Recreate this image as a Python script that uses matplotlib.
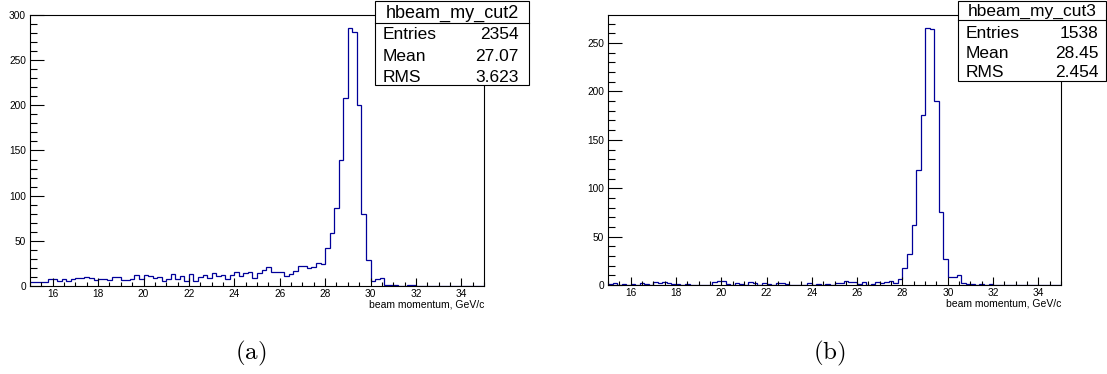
import numpy as np
import matplotlib
matplotlib.use("Agg")
import matplotlib.pyplot as plt
from matplotlib.patches import Rectangle
from matplotlib.lines import Line2D
from matplotlib.ticker import MultipleLocator

plt.rcParams['font.family'] = ['Liberation Sans', 'DejaVu Sans']
plt.rcParams['mathtext.fontset'] = 'cm'

# 100 bins of 0.2 GeV/c between 15 and 35
edges = np.linspace(15, 35, 101)

counts_cut2 = [4, 4, 4, 4, 8, 8, 6, 8, 5, 8,
               9, 9, 10, 9, 7, 8, 8, 7, 10, 10,
               7, 7, 8, 12, 8, 12, 11, 9, 10, 5,
               8, 13, 8, 11, 5, 13, 6, 10, 12, 9,
               14, 11, 12, 8, 12, 15, 11, 14, 15, 9,
               14, 18, 21, 15, 15, 15, 11, 13, 17, 22,
               22, 20, 21, 25, 24, 42, 59, 86, 140, 208,
               286, 281, 200, 80, 29, 6, 8, 9, 1, 1,
               1, 0, 0, 1, 1, 0, 0, 0, 0, 0,
               0, 0, 0, 0, 0, 0, 0, 0, 0, 0]

counts_cut3 = [1, 2, 0, 1, 0, 1, 0, 2, 1, 0,
               3, 2, 3, 2, 1, 1, 0, 1, 0, 0,
               0, 0, 0, 3, 4, 4, 1, 0, 2, 1,
               0, 3, 2, 0, 2, 1, 0, 2, 2, 1,
               0, 0, 0, 0, 2, 0, 1, 0, 1, 0,
               2, 2, 4, 3, 3, 1, 3, 0, 1, 3,
               2, 3, 4, 2, 6, 18, 32, 62, 119, 176,
               266, 265, 190, 75, 27, 8, 8, 10, 2, 1,
               1, 0, 1, 0, 1, 0, 0, 0, 0, 0,
               0, 0, 0, 0, 0, 0, 0, 0, 0, 0]

names = ['hbeam_my_cut2', 'hbeam_my_cut3']
stats = [[('Entries', '2354'), ('Mean', '27.07'), ('RMS', '3.623')],
         [('Entries', '1538'), ('Mean', '28.45'), ('RMS', '2.454')]]
captions = ['(a)', '(b)']
xlabel = 'beam momentum, GeV/c'

W, H = 1107, 374
fig = plt.figure(figsize=(W / 100, H / 100), dpi=100)


def fx(x):
    return x / W


def fy(y):
    return 1 - y / H


def stat_box(x0, x1, y0, y1, ysep, title, rows, base_title, base_rows, xl, xr, fs):
    fig.add_artist(Rectangle((fx(x0), fy(y1)), fx(x1) - fx(x0), fy(y0) - fy(y1),
                             transform=fig.transFigure, facecolor='white',
                             edgecolor='black', lw=0.8, zorder=5))
    fig.add_artist(Line2D([fx(x0), fx(x1)], [fy(ysep), fy(ysep)],
                          transform=fig.transFigure, color='black', lw=0.8, zorder=6))
    fig.text(fx((x0 + x1) / 2), fy(base_title), title, ha='center', va='baseline',
             fontsize=fs, zorder=7)
    for (lab, val), b in zip(rows, base_rows):
        fig.text(fx(xl), fy(b), lab, ha='left', va='baseline', fontsize=12.5, zorder=7)
        fig.text(fx(xr), fy(b), val, ha='right', va='baseline', fontsize=12.5, zorder=7)


def setup(ax, ymax, counts):
    ax.stairs(counts, edges, baseline=None, color='#000099', lw=0.9)
    ax.set_xlim(15, 35)
    ax.set_ylim(0, ymax)
    ax.xaxis.set_major_locator(MultipleLocator(2))
    ax.xaxis.set_minor_locator(MultipleLocator(0.5))
    ax.yaxis.set_major_locator(MultipleLocator(50))
    ax.yaxis.set_minor_locator(MultipleLocator(10))
    ax.tick_params(axis='x', which='major', direction='in', length=5.8, width=0.8,
                   labelsize=7.3, pad=2.2)
    ax.tick_params(axis='x', which='minor', direction='in', length=2.9, width=0.8)
    ax.tick_params(axis='y', which='major', direction='in', length=9.8, width=0.8,
                   labelsize=7.3, pad=3)
    ax.tick_params(axis='y', which='minor', direction='in', length=4.9, width=0.8)
    for s in ax.spines.values():
        s.set_linewidth(0.8)
    ax.set_xlabel(xlabel, fontsize=7.5, loc='right')
    ax.xaxis.set_label_coords(1.0, -0.05)


ax1 = fig.add_axes([fx(30), fy(286), fx(484) - fx(30), fy(14.7) - fy(286)])
setup(ax1, 300.3, counts_cut2)
ax2 = fig.add_axes([fx(608), fy(285), fx(1061) - fx(608), fy(14.7) - fy(285)])
setup(ax2, 279.3, counts_cut3)

stat_box(375, 529, 1, 85.3, 22.7, names[0], stats[0], 17.5, [39.3, 60.6, 82], 383, 519, 13)
stat_box(958, 1105.7, 1, 80.7, 20, names[1], stats[1], 15.6, [38.3, 57.5, 76.7], 966, 1098.3, 12.5)

fig.text(fx(251), fy(353), r'$\mathrm{' + captions[0] + '}$', ha='center', va='center', fontsize=18)
fig.text(fx(829), fy(353), r'$\mathrm{' + captions[1] + '}$', ha='center', va='center', fontsize=18)

fig.savefig('out.png', dpi=100)
